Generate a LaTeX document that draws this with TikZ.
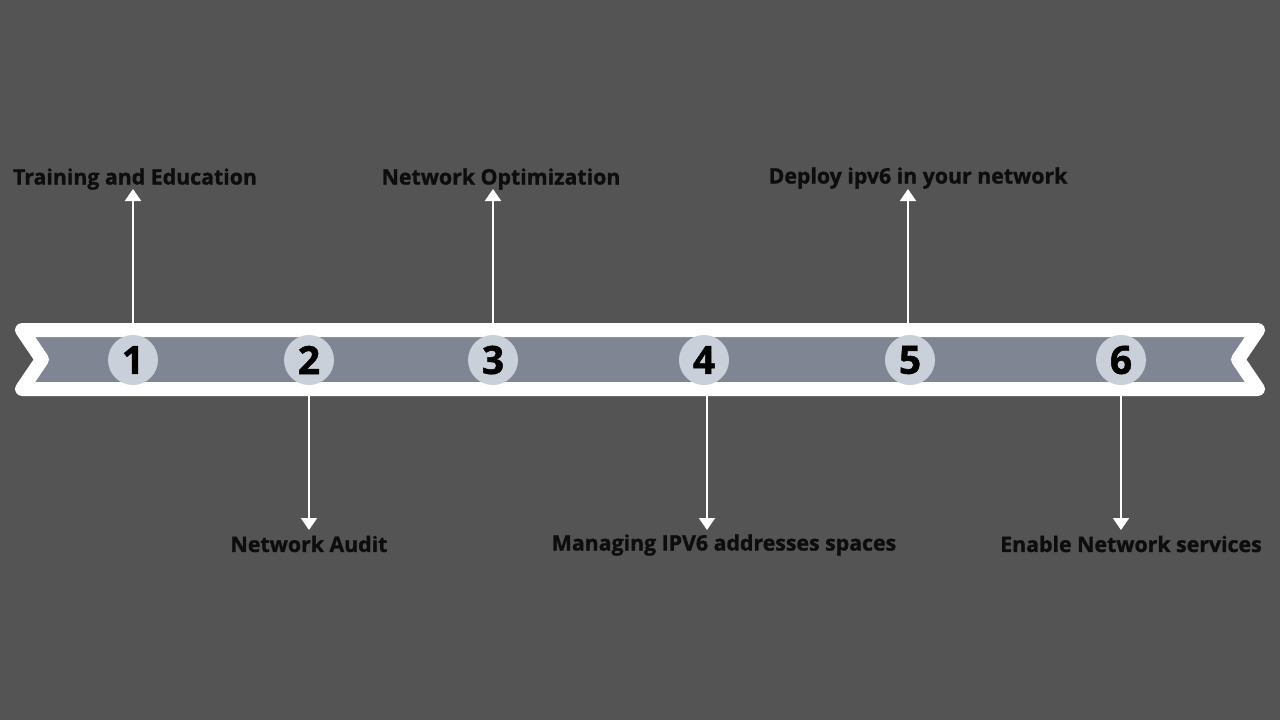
\documentclass[tikz,border=0pt]{standalone}
\usepackage{fontspec}
\setmainfont{Open Sans}
\newfontfamily\xbold{Open Sans}[BoldFeatures={FakeBold=1.2}]
\usetikzlibrary{arrows.meta}
\definecolor{bgc}{HTML}{545454}
\definecolor{bandc}{HTML}{7F8592}
\definecolor{circc}{HTML}{C9D0D9}
\definecolor{txtc}{HTML}{0D0D0D}
\tikzset{
  numc/.style={circle, fill=circc, minimum size=50pt, inner sep=0pt, text=black, font=\fontsize{39}{39}\selectfont\xbold\bfseries},
  lbl/.style={text=txtc, font=\fontsize{21.3}{21.3}\selectfont\xbold\bfseries, inner sep=0pt},
  conn/.style={white, line width=2pt, -{Triangle[width=16pt,length=12pt]}}
}
\begin{document}
\begin{tikzpicture}[x=1pt,y=-1pt]
\fill[bgc] (0,0) rectangle (1280,720);
\useasboundingbox (0,0) rectangle (1280,720);
% band
\filldraw[fill=bandc, draw=white, line width=14pt, line join=round]
  (22,330) -- (1258,330) -- (1238,359.5) -- (1258,389) -- (22,389) -- (42,359.5) -- cycle;
% circles
\node[numc] (n1) at (133,360) {1};
\node[numc] (n2) at (309,360) {2};
\node[numc] (n3) at (493,360) {3};
\node[numc] (n4) at (704,360) {4};
\node[numc] (n5) at (910,360) {5};
\node[numc] (n6) at (1121,360) {6};
% anchors on band edges
\coordinate (b1) at (133,323);
\coordinate (b3) at (493,323);
\coordinate (b5) at (908,323);
\coordinate (b2) at (309,396);
\coordinate (b4) at (707,396);
\coordinate (b6) at (1121,396);
% labels
\node[lbl] (t1) at (135,179) {Training and Education};
\node[lbl] (t3) at (501,179) {Network Optimization};
\node[lbl] (t5) at (918,178) {Deploy ipv6 in your network};
\node[lbl] (t2) at (309,544) {Network Audit};
\node[lbl] (t4) at (724,545) {Managing IPV6 addresses spaces};
\node[lbl] (t6) at (1131,544) {Enable Network services};
% arrow tips
\coordinate (e1) at (133,189);
\coordinate (e3) at (493,189);
\coordinate (e5) at (908,189);
\coordinate (e2) at (309,530);
\coordinate (e4) at (707,530);
\coordinate (e6) at (1121,530);
\draw[conn] (b1) -- (e1);
\draw[conn] (b3) -- (e3);
\draw[conn] (b5) -- (e5);
\draw[conn] (b2) -- (e2);
\draw[conn] (b4) -- (e4);
\draw[conn] (b6) -- (e6);
\end{tikzpicture}
\end{document}
